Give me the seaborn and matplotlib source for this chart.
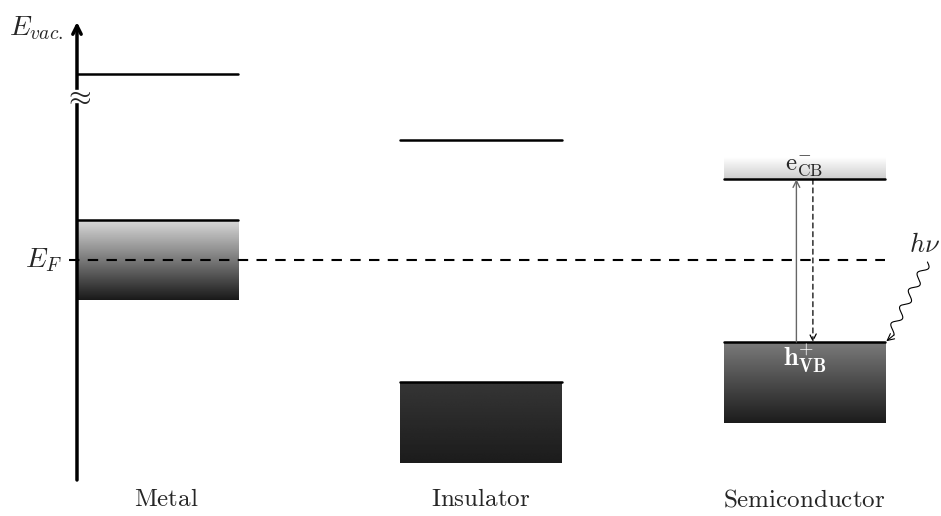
import numpy as np
import pandas as pd
import matplotlib.pyplot as plt
import seaborn as sns

# Band diagram values (energy in arbitrary units, Fermi level = 0)
materials = ["Metal", "Insulator", "Semiconductor"]
upper_level = [4.65, 3.0, 2.02]     # vacuum level / conduction band edge
band_top = [1.0, -3.05, -2.05]      # top of filled band
band_bottom = [-1.0, -5.07, -4.07]  # bottom of filled band
fermi_level = 0.0
vac_break = 4.1

sns.set_theme(style="white")
plt.rcParams["mathtext.fontset"] = "cm"
plt.rcParams["font.family"] = ["DejaVu Serif"]

fig = plt.figure(figsize=(9.41, 5.16), dpi=100)
ax = fig.add_axes([0, 0, 1, 1])
ax.set_xlim(-0.487, 2.422)
ax.set_ylim(-6.4, 6.5)
ax.axis("off")

half = 0.249
xpos = np.arange(len(materials))

# horizontal level lines (upper levels and band tops)
rows = []
for i, m in enumerate(materials):
    for kind, e in (("upper", upper_level[i]), ("band", band_top[i])):
        rows.append({"id": f"{m}-{kind}", "x": xpos[i] - half, "E": e})
        rows.append({"id": f"{m}-{kind}", "x": xpos[i] + half, "E": e})
levels = pd.DataFrame(rows)
sns.lineplot(data=levels, x="x", y="E", units="id", estimator=None,
             color="black", lw=1.8, ax=ax, legend=False, zorder=4)

# gradient filled bands
shade = {"Metal": (0.85, 0.1), "Insulator": (0.21, 0.11), "Semiconductor": (0.48, 0.11)}
for i, m in enumerate(materials):
    s0, s1 = shade[m]
    grad = np.linspace(s0, s1, 200).reshape(-1, 1)
    ax.imshow(grad, cmap="gray", vmin=0, vmax=1, aspect="auto",
              extent=(xpos[i] - half, xpos[i] + half, band_bottom[i], band_top[i]),
              zorder=2)

# faint gradient above semiconductor conduction band
sc = 2
grad = np.linspace(1.0, 0.8, 100).reshape(-1, 1)
ax.imshow(grad, cmap="gray", vmin=0, vmax=1, aspect="auto",
          extent=(xpos[sc] - half, xpos[sc] + half, upper_level[sc], upper_level[sc] + 0.55),
          zorder=2)

# Fermi level
ax.plot([-0.275, xpos[sc] + half], [fermi_level, fermi_level], color="black",
        lw=1.5, ls=(0, (5, 4)), zorder=3)

# energy axis
ax.annotate("", xy=(-half, 5.95), xytext=(-half, -5.5),
            arrowprops=dict(arrowstyle="->,head_width=0.25,head_length=0.5",
                            lw=2.5, color="black", shrinkA=0, shrinkB=0), zorder=5)
ax.add_patch(plt.Rectangle((-half - 0.02, vac_break - 0.15), 0.04, 0.3,
                           color="white", zorder=6))
ax.text(-half, vac_break, r"$\approx$", ha="center", va="center", fontsize=21, zorder=7)
ax.text(-0.46, 5.8, r"$E_{vac.}$", ha="left", va="center", fontsize=20)
ax.text(-0.352, fermi_level, r"$E_F$", ha="center", va="center", fontsize=20)

# excitation / relaxation arrows
ax.annotate("", xy=(xpos[sc] - 0.025, upper_level[sc]), xytext=(xpos[sc] - 0.025, band_top[sc]),
            arrowprops=dict(arrowstyle="->", lw=1.0, color="0.4", shrinkA=0, shrinkB=0), zorder=5)
ax.annotate("", xy=(xpos[sc] + 0.026, band_top[sc]), xytext=(xpos[sc] + 0.026, upper_level[sc]),
            arrowprops=dict(arrowstyle="->", lw=0.9, color="black", ls=(0, (4, 3)),
                            shrinkA=0, shrinkB=0), zorder=5)

ax.text(xpos[sc], upper_level[sc] + 0.3, r"$\mathrm{e}^{-}_{\mathrm{CB}}$",
        ha="center", va="center", fontsize=18, zorder=6)
ax.text(xpos[sc], band_top[sc] - 0.4, r"$\mathbf{h}^{+}_{\mathbf{VB}}$",
        ha="center", va="center", fontsize=19, color="white", zorder=6)

# photon (wavy arrow)
x0, y0 = 2.38, -0.05
x1, y1 = xpos[sc] + half + 0.004, band_top[sc] + 0.02
p0 = ax.transData.transform((x0, y0))
p1 = ax.transData.transform((x1, y1))
d = p1 - p0
L = np.hypot(*d)
u = d / L
nrm = np.array([-u[1], u[0]])
t = np.linspace(0, L - 9, 300)
amp = 4.0 * np.sin(2 * np.pi * t / 19.0)
pts = p0 + np.outer(t, u) + np.outer(amp, nrm)
pts_data = ax.transData.inverted().transform(pts)
ax.plot(pts_data[:, 0], pts_data[:, 1], color="black", lw=0.8, zorder=5)
ax.annotate("", xy=(x1, y1), xytext=tuple(pts_data[-1]),
            arrowprops=dict(arrowstyle="->", lw=0.8, color="black", shrinkA=0, shrinkB=0),
            zorder=5)
ax.text(2.37, 0.38, r"$h\nu$", ha="center", va="center", fontsize=19)

# material labels
for i, m in enumerate(materials):
    dx = 0.028 if i == 0 else 0.0
    ax.text(xpos[i] + dx, -6.0, rf"$\mathrm{{{m}}}$", ha="center", va="center", fontsize=18)

fig.savefig("out.png", dpi=100)
